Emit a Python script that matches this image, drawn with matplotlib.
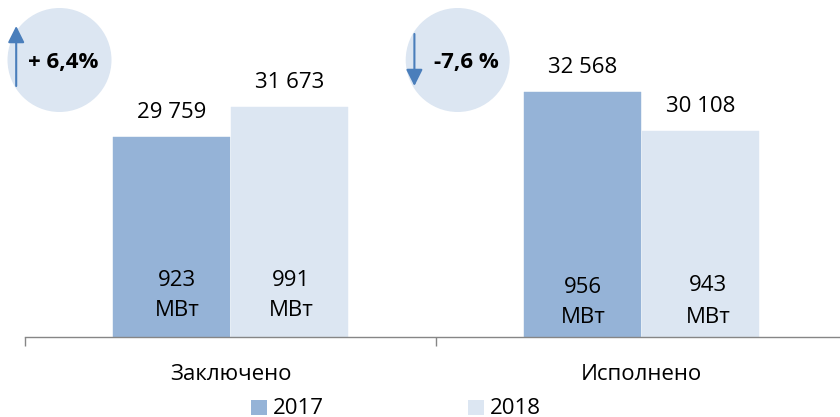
import matplotlib
matplotlib.use("Agg")
import matplotlib.pyplot as plt
from matplotlib.patches import Circle

plt.rcParams["font.family"] = ["Open Sans", "DejaVu Sans"]

categories = ["Заключено", "Исполнено"]
years = ["2017", "2018"]
values_2017 = [29759, 32568]
values_2018 = [31673, 30108]
labels_2017 = ["29 759", "32 568"]
labels_2018 = ["31 673", "30 108"]
power_2017 = ["923", "956"]
power_2018 = ["991", "943"]
changes = ["+ 6,4%", "-7,6 %"]

color_2017 = "#95b3d7"
color_2018 = "#dce6f2"
arrow_color = "#4a7ebb"
W, H = 840, 417
fs = 16

fig = plt.figure(figsize=(W / 100, H / 100), dpi=100)
ax = fig.add_axes([25 / W, (H - 337) / H, 815 / W, 337 / H])
ax.set_facecolor("none")

width = 117.5 / 411
xs = [0.5, 1.5]
bars_2017 = ax.bar([x - width / 2 for x in xs], values_2017, width, color=color_2017,
                   edgecolor=color_2017, linewidth=0.3, label=years[0])
bars_2018 = ax.bar([x + width / 2 for x in xs], values_2018, width, color=color_2018,
                   edgecolor=color_2018, linewidth=0.3, label=years[1])

ax.set_xlim(0, 815 / 411)
ax.set_ylim(17200, 17200 + 337 * 62.8)
ax.yaxis.set_visible(False)
for s in ["top", "left", "right"]:
    ax.spines[s].set_visible(False)
ax.spines["bottom"].set_color("#868686")
ax.spines["bottom"].set_linewidth(1.0)
ax.set_xticks([0, 1])
ax.set_xticklabels([])
ax.tick_params(axis="x", length=6.5, width=1.0, color="#868686")

# подписи категорий
for x, c in zip(xs, categories):
    ax.annotate(c, (x, 0), xycoords=("data", "axes fraction"), xytext=(0, -37.5 * 0.72),
                textcoords="offset points", ha="center", va="center", fontsize=fs, color="black")

# подписи значений над столбцами
for bars, labels in [(bars_2017, labels_2017), (bars_2018, labels_2018)]:
    for b, t in zip(bars, labels):
        ax.annotate(t, (b.get_x() + b.get_width() / 2, b.get_height()), xytext=(0, 24.5 * 0.72),
                    textcoords="offset points", ha="center", va="center", fontsize=fs, color="black")

# слой в пикселях для кружков и подписей МВт
over = fig.add_axes([0, 0, 1, 1])
over.set_xlim(0, W)
over.set_ylim(H, 0)
over.axis("off")

for cx, t, tx, y0, y1 in [(59.5, changes[0], 63, 86, 26), (457.7, changes[1], 466, 34, 86)]:
    over.add_patch(Circle((cx, 60), 52, color=color_2018, lw=0, zorder=1))
    over.text(tx, 62.5, t, ha="center", va="center", fontsize=fs, fontweight="bold", color="black", zorder=3)
    arrow_x = cx - 43.3
    over.annotate("", xy=(arrow_x, y1), xytext=(arrow_x, y0), zorder=2,
                  arrowprops=dict(arrowstyle="-|>,head_width=0.5,head_length=1.0", color=arrow_color,
                                  lw=1.5, shrinkA=0, shrinkB=0))

positions = [(177, 280.5, 310.5), (291, 280.5, 310.5), (583, 287.5, 317.5), (708, 285.5, 317.5)]
power = [power_2017[0], power_2018[0], power_2017[1], power_2018[1]]
for (x, y1, y2), p in zip(positions, power):
    over.text(x, y1, p, ha="center", va="center", fontsize=fs, color="black")
    over.text(x, y2, "МВт", ha="center", va="center", fontsize=fs, color="black")

# легенда
for x, color, year in [(251, color_2017, years[0]), (468, color_2018, years[1])]:
    over.add_patch(plt.Rectangle((x, 400), 15.5, 15, color=color, lw=0))
    over.text(x + 22, 408, year, ha="left", va="center", fontsize=fs, color="black")

fig.savefig("out.png", dpi=100)
